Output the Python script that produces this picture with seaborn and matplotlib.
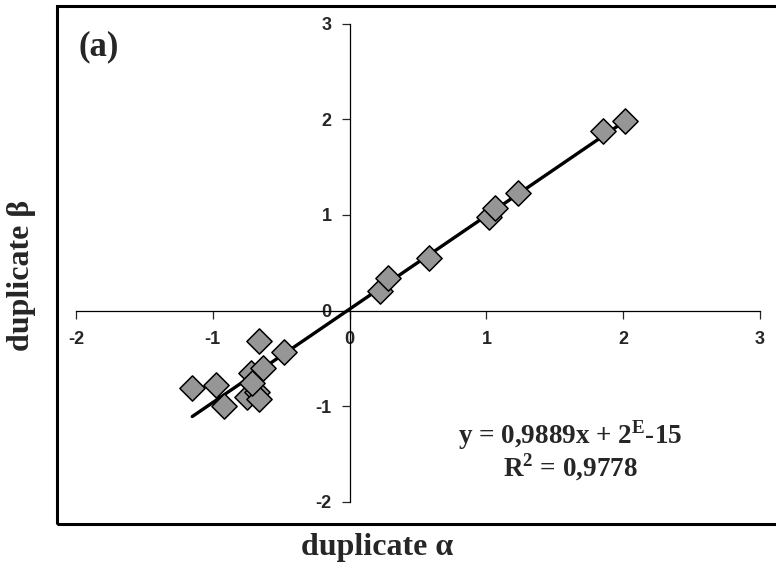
import numpy as np
import pandas as pd
import matplotlib
matplotlib.use("Agg")
import matplotlib.pyplot as plt
import seaborn as sns
from matplotlib.patches import Rectangle

# Valores
dup_alpha = [-1.15, -0.98, -0.92, -0.66, -0.48, -0.72, -0.63, -0.75, -0.68, -0.66, -0.71,
             0.22, 0.28, 0.58, 1.02, 1.06, 1.23, 1.85, 2.01]
dup_beta = [-0.81, -0.78, -1.00, -0.32, -0.43, -0.65, -0.60, -0.90, -0.85, -0.92, -0.76,
            0.21, 0.34, 0.55, 0.98, 1.07, 1.23, 1.88, 1.98]
ticks = [-2, -1, 0, 1, 2, 3]

df = pd.DataFrame({'alpha': dup_alpha, 'beta': dup_beta})

sns.set_style('white')
plt.rcParams['font.family'] = ['Liberation Sans', 'DejaVu Sans']
plt.rcParams['mathtext.fontset'] = 'custom'
plt.rcParams['mathtext.rm'] = 'Liberation Serif'
plt.rcParams['mathtext.bf'] = 'Liberation Serif:bold'

fig = plt.figure(figsize=(7.76, 5.71), dpi=100)
ax = fig.add_axes([76 / 776, (571 - 502) / 571, 684 / 776, (502 - 23.6) / 571])

# moldura externa
fig.patches.append(Rectangle((57 / 776, (571 - 524) / 571), 0.99, (524 - 5.5) / 571,
                             transform=fig.transFigure, fill=False, lw=2.2,
                             edgecolor='black', zorder=0))

sns.regplot(data=df, x='alpha', y='beta', scatter=False, ci=None, ax=ax,
            line_kws={'color': 'black', 'lw': 2.4, 'zorder': 3})
sns.scatterplot(data=df, x='alpha', y='beta', marker='D', s=165, color='#969696',
                edgecolor='black', linewidth=1.1, ax=ax, zorder=4, clip_on=False)

ax.set_xlim(-2, 3)
ax.set_ylim(-2, 3)
for s in ['top', 'right']:
    ax.spines[s].set_visible(False)
ax.spines['left'].set_position(('data', 0))
ax.spines['bottom'].set_position(('data', 0))
for s in ['left', 'bottom']:
    ax.spines[s].set_color('black')
    ax.spines[s].set_linewidth(0.9)

ax.set_xticks(ticks)
ax.set_yticks(ticks)
ax.set_xticklabels([str(t) for t in ticks], fontweight='bold', fontsize=13)
ax.set_yticklabels([str(t) for t in ticks], fontweight='bold', fontsize=13)
ax.tick_params(axis='x', direction='out', length=6, width=0.9, pad=9, bottom=True)
ax.tick_params(axis='y', direction='out', length=6, width=0.9, pad=7, left=True)
ax.set_xlabel('')
ax.set_ylabel('')

serif = {'family': ['Liberation Serif', 'DejaVu Serif'], 'weight': 'bold'}
fig.text(377 / 776, 1 - 548 / 571, 'duplicate α', ha='center', va='center',
         fontsize=23, fontdict=serif)
fig.text(22 / 776, 1 - 275 / 571, 'duplicate β', ha='center', va='center',
         rotation=90, fontsize=23, fontdict=serif)
fig.text(78 / 776, 1 - 47 / 571, '(a)', ha='left', va='center', fontsize=25, fontdict=serif)

fig.text(570 / 776, 1 - 435 / 571, r'y = 0,9889x + 2$^{\mathbf{E}}$-15', ha='center',
         va='center', fontsize=19.5, fontdict=serif)
fig.text(570 / 776, 1 - 467 / 571, r'R$^{\mathbf{2}}$ = 0,9778', ha='center',
         va='center', fontsize=19.5, fontdict=serif)

fig.savefig('out.png', dpi=100)
